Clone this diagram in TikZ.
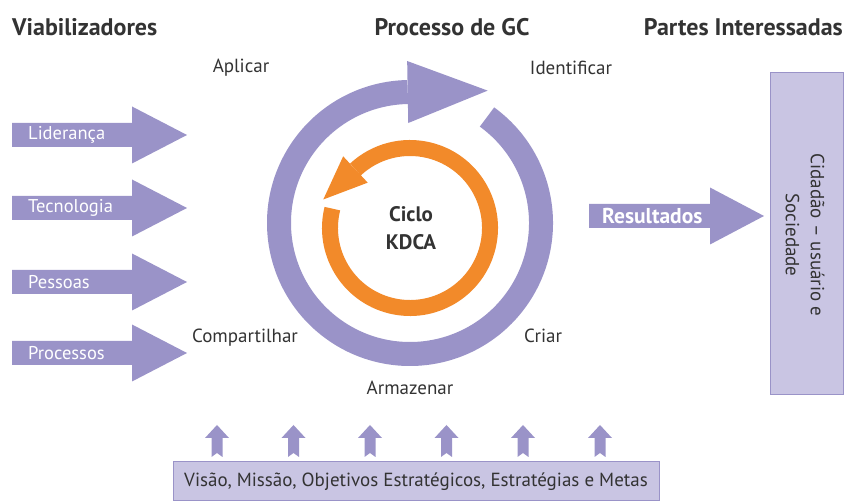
\documentclass[tikz,border=0pt]{standalone}
\usepackage{fontspec}
\setmainfont{PT Sans}
\usetikzlibrary{calc}
\definecolor{gcpurple}{HTML}{9A93C8}
\definecolor{gclilac}{HTML}{C9C5E3}
\definecolor{gcorange}{HTML}{F28A2A}
\definecolor{gctext}{HTML}{333333}
\begin{document}
\begin{tikzpicture}[x=1pt,y=1pt,
  every node/.style={font=\fontsize{19}{22}\selectfont,text=gctext,inner sep=0pt},
  title/.style={font=\fontsize{24}{28}\selectfont\bfseries},
  phase/.style={anchor=center},
  inarrow/.style={anchor=west,text=white,font=\fontsize{18.5}{22}\selectfont}]
  \useasboundingbox (0,0) rectangle (846,502);
  % titles
  \node [title,anchor=west] (viab) at (12,475) {Viabilizadores};
  \node [title] (proc) at (452,475) {Processo de GC};
  \node [title,anchor=east] (partes) at (843,475) {Partes Interessadas};
  % enabler arrows
  \foreach \yy/\lab/\nm in {367/Liderança/lid,294/Tecnologia/tec,220/Pessoas/pes,149/Processos/prc} {
    \fill [gcpurple] (12,\yy-12) -- (132,\yy-12) -- (132,\yy-28.5) -- (187,\yy)
      -- (132,\yy+28.5) -- (132,\yy+12) -- (12,\yy+12) -- cycle;
    \node [inarrow] (\nm) at (28,\yy) {\lab};
  }
  % KM process ring
  \begin{scope}[shift={(410,279)}]
    \draw [gcpurple,line width=24pt] (54:131) arc [start angle=54,end angle=-269,radius=131];
    \fill [gcpurple] (91:100) -- (91:162) -- ($(91:131)+(1:80)$) -- cycle;
  \end{scope}
  % KDCA cycle
  \begin{scope}[shift={(410,274)}]
    \draw [gcorange,line width=16pt] (166:80) arc [start angle=166,end angle=493,radius=80];
    \fill [gcorange] (133:62) -- (133:98) -- ($(133:80)+(223:44)$) -- cycle;
  \end{scope}
  \node [font=\fontsize{21}{28}\selectfont\bfseries,align=center] (kdca) at (411,274) {Ciclo\\KDCA};
  % phases
  \node [phase] (apl) at (241,434) {Aplicar};
  \node [phase] (ide) at (571,434) {Identificar};
  \node [phase] (cmp) at (245,164) {Compartilhar};
  \node [phase] (cri) at (543,166) {Criar};
  \node [phase] (arm) at (410,114) {Armazenar};
  % results
  \fill [gcpurple] (589,274) -- (710,274) -- (710,257.5) -- (764,286)
    -- (710,314.5) -- (710,298) -- (589,298) -- cycle;
  \node [inarrow,font=\fontsize{21.5}{24}\selectfont\bfseries] (res) at (602,286) {Resultados};
  % stakeholders
  \draw [gcpurple,fill=gclilac,line width=1pt] (770,107) rectangle (843,429);
  \node [rotate=-90,align=center,font=\fontsize{19}{25}\selectfont] (cid) at (805,267) {Cidadão – usuário e\\Sociedade};
  % strategy base
  \draw [gcpurple,fill=gclilac,line width=1pt] (173,1) rectangle (659,40);
  \node (vis) at (416,20) {Visão, Missão, Objetivos Estratégicos, Estratégias e Metas};
  \foreach \xx in {217,293.5,370,446.5,523,600} {
    \fill [gcpurple] (\xx-5.5,45) -- (\xx,49) -- (\xx+5.5,45) -- (\xx+5.5,64) -- (\xx+12,64)
      -- (\xx,77) -- (\xx-12,64) -- (\xx-5.5,64) -- cycle;
  }
\end{tikzpicture}
\end{document}
